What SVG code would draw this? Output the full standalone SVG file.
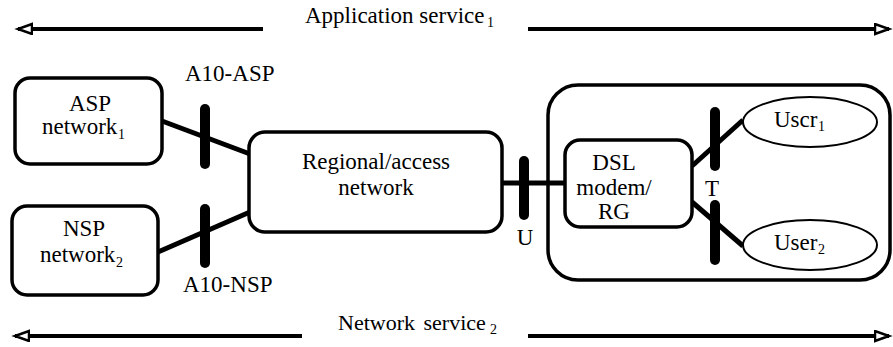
<svg xmlns="http://www.w3.org/2000/svg" width="893" height="347" viewBox="0 0 893 347">
<style>
text{font-family:"Liberation Serif","Times New Roman","DejaVu Serif",serif;font-size:23px;fill:#000}
.c{text-anchor:middle}
.sub{font-size:14px}
.sv{font-size:22px}
.box{fill:#fff;stroke:#000;stroke-width:3.5}
.ell{fill:#fff;stroke:#000;stroke-width:2}
.link{stroke:#000;stroke-width:5;fill:none}
.bar{stroke:#000;stroke-width:10;stroke-linecap:round;fill:none}
.svc{stroke:#000;stroke-width:4;fill:none}
</style>
<defs>
<marker id="ah" markerUnits="userSpaceOnUse" markerWidth="20" markerHeight="16" refX="15" refY="6" orient="auto">
<path d="M1,1 L15,6 L1,11 Z" fill="#fff" stroke="#000" stroke-width="2.5"/>
</marker>
</defs>
<rect width="893" height="347" fill="#fff"/>

<g id="app-service">
<line class="svc" x1="263" y1="29" x2="18" y2="29" marker-end="url(#ah)"/>
<line class="svc" x1="528" y1="29" x2="889" y2="29" marker-end="url(#ah)"/>
<text x="305" y="23">Application service</text>
<text class="sub" x="487" y="27">1</text>
</g>

<g id="net-service">
<line class="svc" x1="302" y1="336" x2="15" y2="336" marker-end="url(#ah)"/>
<line class="svc" x1="528" y1="336" x2="889" y2="336" marker-end="url(#ah)"/>
<text class="sv" x="338" y="330" word-spacing="3">Network service</text>
<text class="sub" x="490" y="334">2</text>
</g>

<g id="home">
<rect class="box" x="548" y="85" width="342" height="195" rx="30" ry="30"/>
</g>

<g id="connectors">
<line class="link" x1="162" y1="121" x2="250" y2="154"/>
<line class="link" x1="158" y1="252" x2="250" y2="212"/>
<line class="link" x1="502" y1="183" x2="566" y2="183"/>
<line class="link" x1="692" y1="166" x2="743" y2="120"/>
<line class="link" x1="692" y1="202" x2="743" y2="246"/>
</g>

<g id="asp">
<rect class="box" x="15" y="78" width="147" height="86" rx="15" ry="15"/>
<text class="c" x="90" y="111">ASP</text>
<text x="42" y="134">network</text>
<text class="sub" x="118" y="139">1</text>
</g>

<g id="nsp">
<rect class="box" x="12" y="206" width="146" height="89" rx="15" ry="15"/>
<text class="c" x="84" y="236">NSP</text>
<text x="40" y="262">network</text>
<text class="sub" x="116" y="267">2</text>
</g>

<g id="regional">
<rect class="box" x="249" y="132" width="253" height="100" rx="16" ry="16"/>
<text class="c" x="376" y="169">Regional/access</text>
<text class="c" x="376" y="195">network</text>
</g>

<g id="dsl">
<rect class="box" x="565" y="140" width="127" height="87" rx="15" ry="15"/>
<text class="c" x="614" y="170">DSL</text>
<text class="c" x="614" y="195">modem/</text>
<text class="c" x="614" y="219">RG</text>
</g>

<g id="user1">
<ellipse class="ell" cx="810" cy="122" rx="67" ry="25"/>
<text x="774" y="127">Uscr</text>
<text class="sub" x="818" y="131">1</text>
</g>

<g id="user2">
<ellipse class="ell" cx="810" cy="245" rx="67" ry="25"/>
<text x="774" y="250">User</text>
<text class="sub" x="818" y="254">2</text>
</g>

<g id="ref-a10-asp">
<line class="bar" x1="205" y1="109" x2="205" y2="164"/>
<text x="185" y="81">A10-ASP</text>
</g>
<g id="ref-a10-nsp">
<line class="bar" x1="205" y1="209" x2="205" y2="263"/>
<text x="183" y="292">A10-NSP</text>
</g>
<g id="ref-u">
<line class="bar" x1="524" y1="161" x2="524" y2="215"/>
<text class="c" x="525" y="245">U</text>
</g>
<g id="ref-t">
<line class="bar" x1="715" y1="112" x2="715" y2="166"/>
<line class="bar" x1="715" y1="205" x2="715" y2="260"/>
<text class="c" x="712" y="196">T</text>
</g>
</svg>
